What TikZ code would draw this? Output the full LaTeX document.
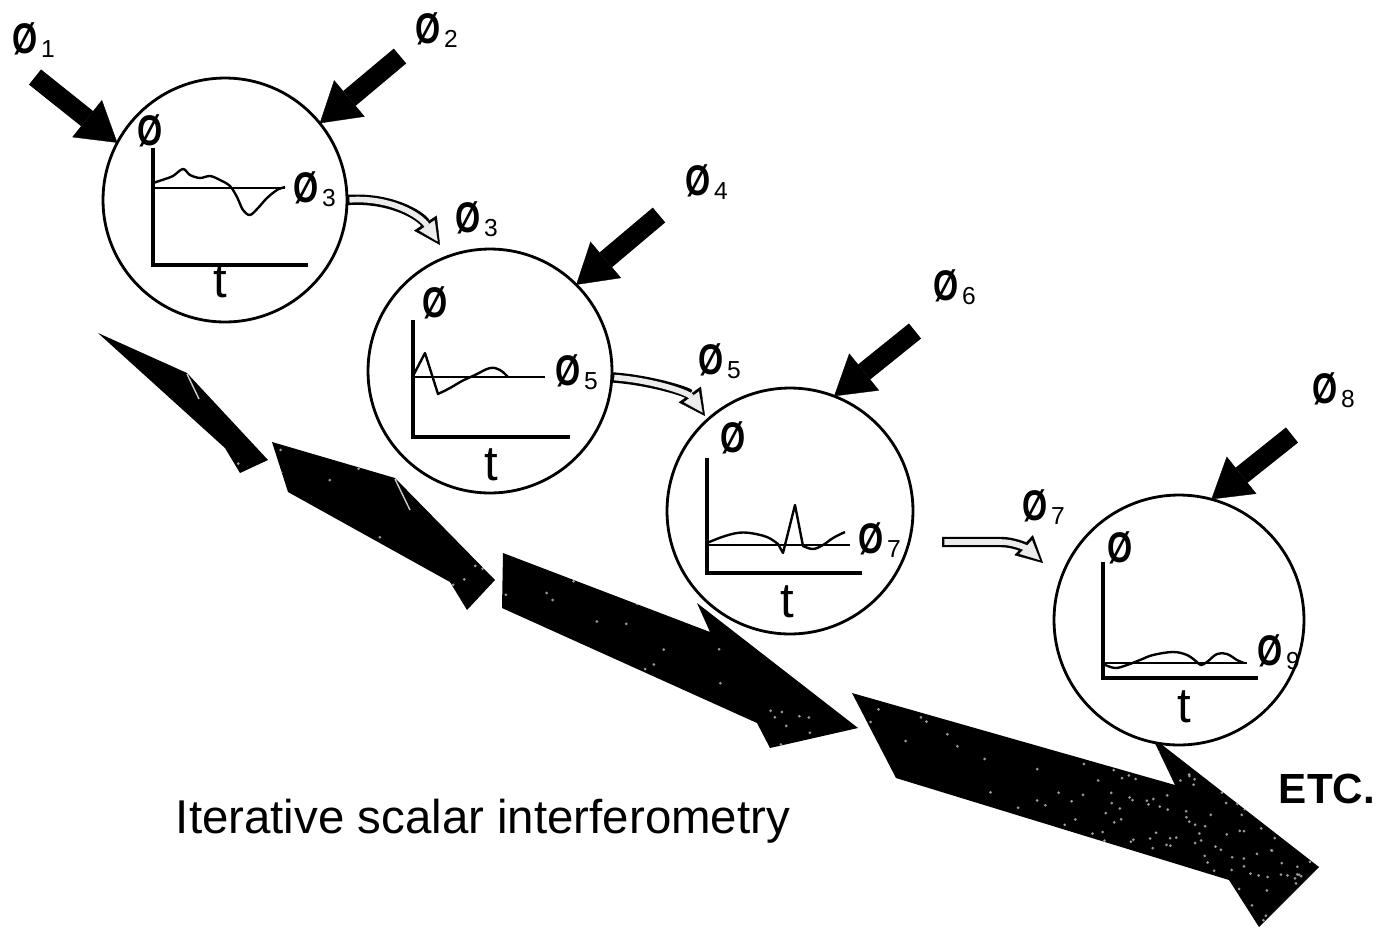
\documentclass[tikz,border=0pt]{standalone}
\usepackage{fontspec}
\setmainfont{Liberation Sans}
\usetikzlibrary{arrows.meta}
\newcommand\myO{{\bfseries\scalebox{0.92}[1.22]{Ø}}}
\newcommand\Osub[1]{\myO\hspace{2pt}\raisebox{-2.5pt}{\fontsize{14}{14}\selectfont #1}}
\newcommand\mySpeckle[5]{\foreach \k in {1,...,#5}{\pgfmathsetmacro\sx{#1+rnd*(#3-#1)}\pgfmathsetmacro\sy{#2+rnd*(#4-#2)}\fill[black!40] (\sx,\sy) circle (1.5);}}
\begin{document}
\begin{tikzpicture}[x=0.02cm,y=-0.02cm,
 circ/.style={circle, draw, line width=1.6pt, fill=white, inner sep=0pt, outer sep=0pt},
 axisline/.style={line width=1.9pt},
 baseln/.style={line width=1.6pt},
 wave/.style={line width=1.35pt, line join=round},
 inarrow/.style={line width=11pt, -{Triangle[length=22pt,width=27pt,line width=0.2pt]}},
 hollowout/.style={line width=5.9pt, -{Triangle[length=15pt,width=15.5pt,line width=0.2pt]}},
 hollowin/.style={line width=3.2pt, gray!15, shorten <=1.4pt, shorten >=2.4pt, -{Triangle[length=11pt,width=10.5pt,line width=0.2pt]}},
 lbl/.style={inner sep=0pt, anchor=base west, font=\fontsize{20}{20}\selectfont},
 tlbl/.style={inner sep=0pt, anchor=base, font=\fontsize{28}{28}\selectfont},
 bigarrow/.style={fill=black},
 barb/.style={white!80!black, line width=0.8pt}]
\useasboundingbox (0,0) rectangle (1390,931);
\fill[white] (0,0) rectangle (1390,931);
\pgfmathsetseed{12}

% big black arrows
\fill[bigarrow] (98,333) -- (187,373) -- (268,460) -- (240,473) -- (225,448) -- cycle;
\begin{scope}
\clip (98,333) -- (187,373) -- (268,460) -- (240,473) -- (225,448) -- cycle;
\mySpeckle{98}{333}{268}{473}{20}
\end{scope}
\draw[barb] (187,374) -- (199,399);

\fill[bigarrow] (272,442) -- (395,478) -- (495,580) -- (467,610) -- (450,582) -- (288,492) -- cycle;
\begin{scope}
\clip (272,442) -- (395,478) -- (495,580) -- (467,610) -- (450,582) -- (288,492) -- cycle;
\mySpeckle{272}{442}{495}{610}{40}
\end{scope}
\draw[barb] (395,479) -- (410,510);

\fill[bigarrow] (503,553) -- (710,632) -- (697,603) -- (858,728) -- (770,748) -- (757,723) -- (502,608) -- cycle;
\begin{scope}
\clip (503,553) -- (710,632) -- (697,603) -- (858,728) -- (770,748) -- (757,723) -- (502,608) -- cycle;
\mySpeckle{502}{553}{858}{748}{60}
\end{scope}

\fill[bigarrow] (852,693) -- (1175,785) -- (1152,737) -- (1319,867) -- (1259,927) -- (1229,880) -- (896,778) -- cycle;
\begin{scope}
\clip (852,693) -- (1175,785) -- (1152,737) -- (1319,867) -- (1259,927) -- (1229,880) -- (896,778) -- cycle;
\mySpeckle{852}{693}{1319}{927}{90}
\mySpeckle{1060}{740}{1319}{927}{160}
\end{scope}

% circles
\node[circ, minimum size=4.88cm] (c1) at (225,200) {};
\node[circ, minimum size=4.88cm] (c2) at (490,371) {};
\node[circ, minimum size=4.92cm] (c3) at (790,511) {};
\node[circ, minimum size=5.0cm] (c4) at (1179,620) {};

% circle 1 graph
\draw[axisline] (153,148) -- (153,265) -- (308,265);
\draw[baseln] (153,188) -- (285,188);
\draw[wave] plot[smooth, tension=0.55] coordinates {(153,183) (165,179) (173,176) (183,169) (190,175) (200,178) (210,176) (220,180) (230,186) (237,197) (243,210) (250,215) (258,208) (267,198) (277,190) (285,187)};
\node[lbl] (a1) at (137,145) {\myO};
\node[lbl] (o3a) at (293,202) {\Osub{3}};
\node[tlbl] (t1) at (220,297) {t};

% circle 2 graph
\draw[axisline] (413,320) -- (413,437) -- (570,437);
\draw[baseln] (413,377) -- (545,377);
\draw[wave] (413,376) -- (425,353) -- (438,394) -- plot[smooth, tension=0.6] coordinates {(438,394) (450,388) (462,381) (475,375) (490,368) (500,370) (508,377)};
\node[lbl] (a2) at (422,317) {\myO};
\node[lbl] (o5a) at (555,385) {\Osub{5}};
\node[tlbl] (t2) at (491,480) {t};

% circle 3 graph
\draw[axisline] (707,458) -- (707,573) -- (862,573);
\draw[baseln] (707,545) -- (850,545);
\draw[wave] plot[smooth, tension=0.6] coordinates {(707,543) (722,537) (737,533) (750,533) (767,537) (778,544)} -- (783,553) -- (795,505) -- (803,546) -- plot[smooth, tension=0.6] coordinates {(803,546) (813,549) (823,545) (833,538) (845,532)};
\node[lbl] (a3) at (720,452) {\myO};
\node[lbl] (o7a) at (858,553) {\Osub{7}};
\node[tlbl] (t3) at (787,617) {t};

% circle 4 graph
\draw[axisline] (1103,562) -- (1103,678) -- (1258,678);
\draw[baseln] (1103,663) -- (1247,663);
\draw[wave] plot[smooth, tension=0.6] coordinates {(1103,664) (1115,668) (1127,665) (1140,660) (1153,655) (1173,652) (1187,655) (1197,662) (1201,665) (1207,662) (1217,654) (1227,654) (1237,660) (1244,663)};
\node[lbl] (a4) at (1107,562) {\myO};
\node[lbl] (o9) at (1257,665) {\Osub{9}};
\node[tlbl] (t4) at (1184,722) {t};

% outside labels
\node[lbl] (o1) at (12,53) {\Osub{1}};
\node[lbl] (o2) at (415,43) {\Osub{2}};
\node[lbl] (o3b) at (455,232) {\Osub{3}};
\node[lbl] (o4) at (685,195) {\Osub{4}};
\node[lbl] (o5b) at (698,374) {\Osub{5}};
\node[lbl] (o6) at (933,300) {\Osub{6}};
\node[lbl] (o7b) at (1022,520) {\Osub{7}};
\node[lbl] (o8) at (1312,403) {\Osub{8}};

% input arrows
\coordinate (s1) at (35,77);
\coordinate (s2) at (400,56);
\coordinate (s4) at (659,215);
\coordinate (s6) at (915,331);
\coordinate (s8) at (1292,435);
\draw[inarrow] (s1) -- (c1.152.6);
\draw[inarrow] (s2) -- (c1.39.2);
\draw[inarrow] (s4) -- (c2.45.3);
\draw[inarrow] (s6) -- (c3.69.3);
\draw[inarrow] (s8) -- (c4.75.3);

% hollow transfer arrows
\coordinate (h1e) at (440,245);
\coordinate (h2e) at (705,416);
\coordinate (h3s) at (942,542);
\coordinate (h3e) at (1043,563);
\draw[hollowout] (c1.0) .. controls (390,197) and (420,215) .. (h1e);
\draw[hollowin] (c1.0) .. controls (390,197) and (420,215) .. (h1e);
\draw[hollowout] (c2.-3) .. controls (650,380) and (688,392) .. (h2e);
\draw[hollowin] (c2.-3) .. controls (650,380) and (688,392) .. (h2e);
\draw[hollowout] (h3s) -- (1000,542) .. controls (1018,542) and (1030,551) .. (h3e);
\draw[hollowin] (h3s) -- (1000,542) .. controls (1018,542) and (1030,551) .. (h3e);

% texts
\node[inner sep=0pt, anchor=base, font=\fontsize{27}{32}\selectfont] (cap) at (483,833) {Iterative scalar interferometry};
\node[inner sep=0pt, anchor=base, font=\bfseries\fontsize{24}{28}\selectfont] (etc) at (1327,803) {ETC.};
\end{tikzpicture}
\end{document}
